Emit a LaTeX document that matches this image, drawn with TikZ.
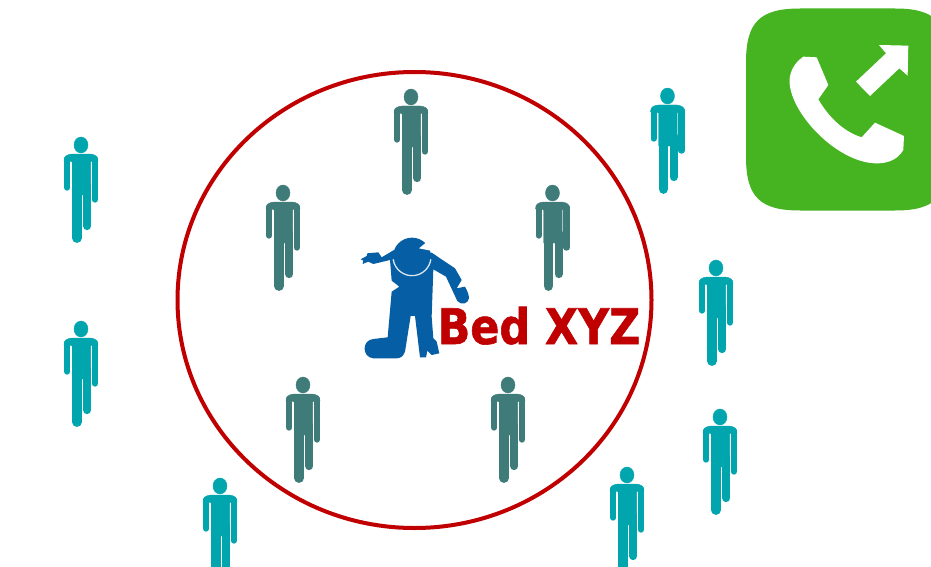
\documentclass[tikz,border=0pt]{standalone}
\usepackage{fontspec}
\usetikzlibrary{shapes.geometric}
\setsansfont{DejaVu Sans}[BoldFeatures={FakeBold=1.2}]
\definecolor{tealp}{HTML}{00A5AE}
\definecolor{darkp}{HTML}{3E7B79}
\definecolor{redc}{HTML}{C00000}
\definecolor{bluef}{HTML}{065FA4}
\definecolor{greenp}{HTML}{46B321}
\tikzset{
  personpic/.pic={
    \fill[pic actions] (0,0) ellipse [x radius=7,y radius=8];
    \fill[pic actions] (-17,16) .. controls (-17,11) and (-14,9.5) .. (-9,9) -- (9,9) .. controls (14,9.5) and (17,11) .. (17,16) -- (11,16) -- (9.6,17) -- (9.6,50) -- (-8.8,50) -- (-8.8,17) -- (-11,16) -- cycle;
    \draw[pic actions,line width=6.2pt,line cap=round] (-13.9,14) -- (-13.9,42.6);
    \draw[pic actions,line width=6.2pt,line cap=round] (13.9,14) -- (13.9,54.6);
    \draw[pic actions,line width=9.8pt,line cap=round] (-4.1,40) -- (-4.1,93);
    \draw[pic actions,line width=8.3pt,line cap=round] (6.2,40) -- (6.2,81);
  },
  tealperson/.style={fill=tealp,draw=tealp},
  darkperson/.style={fill=darkp,draw=darkp},
  ringline/.style={draw=redc,line width=4pt},
  bedlabel/.style={text=redc,font=\sffamily\bfseries\fontsize{49}{49}\selectfont,xscale=0.875,transform shape,inner sep=0pt,anchor=base west}
}
\begin{document}
\begin{tikzpicture}[x=1pt,y=-1pt]
\clip (0,0) rectangle (931,567);
\fill[white] (0,0) rectangle (931,567);
% teal people
\pic[tealperson] (pa) at (81,145) {personpic};
\pic[tealperson] (pb) at (81,329) {personpic};
\pic[tealperson] (pc) at (667.5,96) {personpic};
\pic[tealperson] (pd) at (716,268) {personpic};
\pic[tealperson] (pe) at (720,417) {personpic};
\pic[tealperson] (pf) at (627,475) {personpic};
\pic[tealperson] (pg) at (220,486) {personpic};
% dark people
\pic[darkperson] (qa) at (411,97) {personpic};
\pic[darkperson] (qb) at (283,193) {personpic};
\pic[darkperson] (qc) at (552.5,193) {personpic};
\pic[darkperson] (qd) at (303,385) {personpic};
\pic[darkperson] (qe) at (508,385) {personpic};
% ring
\node[ringline,ellipse,minimum width=474pt,minimum height=456pt,inner sep=0pt] (ring) at (414.5,300) {};
% casualty
\begin{scope}[shift={(340,220)},x=0.3333pt,y=-0.3333pt]
\fill[bluef] (62,118) -- (80,108) -- (82,100) -- (115,97) -- (125,112) -- (162,90) -- (216,120) -- (275,98) -- (345,145) -- (365,180) -- (350,205) -- (375,200) .. controls (382,212) and (387,225) .. (387,235) .. controls (385,250) and (365,258) .. (352,243) -- (318,170) -- (280,148) -- (275,290) -- (280,355) -- (290,365) -- (298,400) -- (275,405) -- (262,392) -- (258,412) -- (240,412) -- (225,288) -- (212,288) -- (195,395) .. controls (190,410) and (180,415) .. (170,415) -- (100,415) .. controls (65,412) and (65,360) .. (100,357) -- (143,352) -- (155,215) -- (178,200) -- (155,182) -- (150,120) -- (100,132) -- (85,125) -- (68,132) -- (70,122) -- cycle;
\fill[bluef] (216,110) circle [radius=57];
\draw[white!85!bluef,line width=1.3pt] (216,110) ++(172:57) arc [start angle=172,end angle=8,radius=57];
\fill[white] (258,68) -- (237,85) -- (272,92) -- (285,70) -- (265,50) -- cycle;
\end{scope}
% label
\node[bedlabel] (bed) at (437.5,344) {Bed XYZ};
% phone icon
\fill[greenp] (746,62) .. controls (746,22) and (760,8.5) .. (800,8.5) -- (895,8.5) .. controls (935,8.5) and (948,22) .. (948,62) -- (948,157) .. controls (948,197) and (935,210.5) .. (895,210.5) -- (800,210.5) .. controls (760,210.5) and (746,197) .. (746,157) -- cycle;
\begin{scope}[shift={(740,0)},x=0.3333pt,y=-0.3333pt]
\fill[white] (348,245) -- (438,160) -- (417,135) -- (505,137) -- (503,227) -- (478,205) -- (390,288) -- cycle;
\fill[white] (190,170) -- (230,172) -- (265,255) -- (235,298) .. controls (265,350) and (310,395) .. (365,412) -- (405,368) -- (492,408) -- (490,450) .. controls (470,485) and (430,495) .. (385,488) .. controls (280,470) and (165,350) .. (150,260) .. controls (143,225) and (160,190) .. (190,170) -- cycle;
\end{scope}
\end{tikzpicture}
\end{document}
